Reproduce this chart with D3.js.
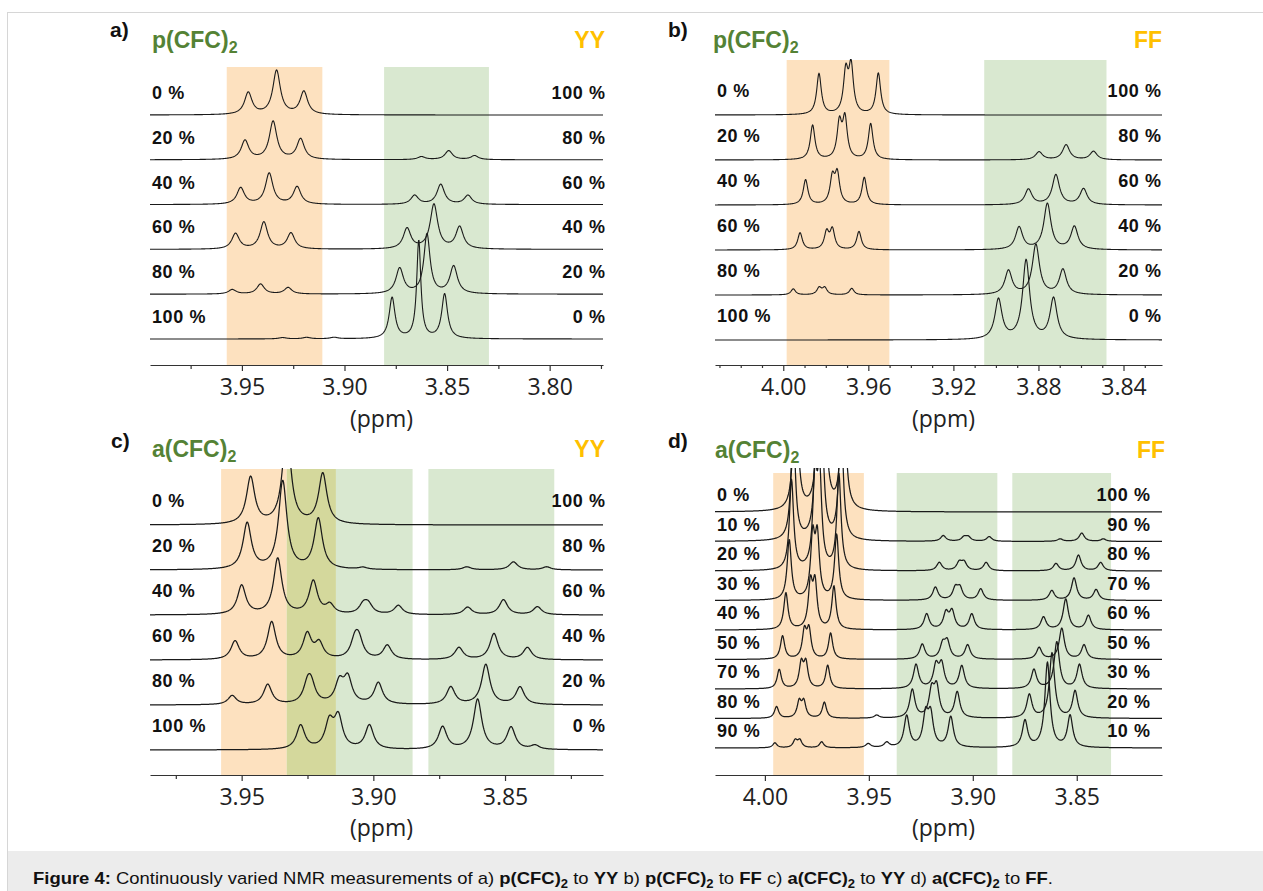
<!DOCTYPE html>
<html>
<head>
<meta charset="utf-8">
<script src="https://cdn.jsdelivr.net/npm/d3@7/dist/d3.min.js"></script>
<style>
body { margin: 0; background: #fff; }
svg { display: block; }
</style>
</head>
<body>
<svg id="fig" width="1263" height="891"></svg>
<script>
// ---- panel a : p(CFC)2 -> YY ----
var leftA = ["0 %", "20 %", "40 %", "60 %", "80 %", "100 %"];
var rightA = ["100 %", "80 %", "60 %", "40 %", "20 %", "0 %"];
var majorA = [3.95, 3.90, 3.85, 3.80];
var minorA = [3.975, 3.925, 3.875, 3.825, 3.775];
var bandsA = [[3.9574, 3.9108, "orange"], [3.8807, 3.8296, "green"]];
// peaks: [ppm, height, halfwidth?]
var peaksA = [
	[[3.9469, 22], [3.9331, 44], [3.9198, 23]],
	[[3.9485, 19], [3.9348, 38], [3.9214, 20.5], [3.8625, 3], [3.8492, 9], [3.8366, 4]],
	[[3.9506, 16.5], [3.9367, 31], [3.9231, 17.5], [3.8658, 9], [3.8531, 20], [3.8398, 9]],
	[[3.9531, 15.5], [3.9393, 27], [3.9261, 16], [3.8695, 20.5], [3.8564, 44.5], [3.8439, 22]],
	[[3.9547, 4.5], [3.9409, 10], [3.9275, 6.5], [3.8731, 25.5], [3.8598, 59.5, 0.0018], [3.8468, 27.5]],
	[[3.9302, 1.3], [3.9185, 1.5], [3.9051, 1.5], [3.8768, 41, 0.0017], [3.8638, 98, 0.0012], [3.8512, 44.5, 0.0017]]
];

// ---- panel b : p(CFC)2 -> FF ----
var leftB = ["0 %", "20 %", "40 %", "60 %", "80 %", "100 %"];
var rightB = ["100 %", "80 %", "60 %", "40 %", "20 %", "0 %"];
var majorB = [4.00, 3.96, 3.92, 3.88, 3.84];
var minorB = [4.03, 4.02, 4.01, 3.99, 3.98, 3.97, 3.95, 3.94, 3.93, 3.91, 3.90, 3.89, 3.87, 3.86, 3.85, 3.83];
var bandsB = [[3.9984, 3.9501, "orange"], [3.9055, 3.8480, "green"]];
var peaksB = [
	[[3.9832, 41], [3.9706, 41], [3.9681, 46.4], [3.9553, 41.5]],
	[[3.9862, 34.5], [3.9736, 35.4], [3.9710, 39.6], [3.9589, 36], [3.8797, 8, 0.002], [3.8670, 15, 0.002], [3.8541, 8.5, 0.002]],
	[[3.9895, 25], [3.9769, 26.1], [3.9746, 29.5], [3.9619, 27.3], [3.8847, 15.5, 0.002], [3.8718, 30, 0.002], [3.8588, 16, 0.002]],
	[[3.9921, 17], [3.9796, 17.2], [3.9769, 19.7], [3.9644, 18.3], [3.8891, 22.5, 0.002], [3.8758, 46, 0.002], [3.8631, 23, 0.002]],
	[[3.9953, 6], [3.9831, 6.9], [3.9805, 6.9], [3.9678, 6.5], [3.8941, 24, 0.002], [3.8812, 50, 0.002], [3.8685, 25, 0.002]],
	[[3.8988, 40, 0.002], [3.8858, 79, 0.002], [3.8729, 41, 0.002]]
];

// ---- panel c : a(CFC)2 -> YY ----
var leftC = ["0 %", "20 %", "40 %", "60 %", "80 %", "100 %"];
var rightC = ["100 %", "80 %", "60 %", "40 %", "20 %", "0 %"];
var majorC = [3.95, 3.90, 3.85];
var minorC = [3.975, 3.925, 3.875, 3.825];
var bandsC = [[3.9578, 3.9329, "orange"], [3.9329, 3.9142, "olive"], [3.9142, 3.8851, "green"], [3.8791, 3.8313, "green"]];
var peaksC = [
	[[3.9466, 47], [3.9329, 95], [3.9192, 50.5]],
	[[3.9479, 46], [3.9344, 88], [3.9209, 50.5], [3.9040, 2], [3.8645, 3], [3.8468, 8], [3.8342, 3]],
	[[3.9500, 29], [3.9363, 56], [3.9228, 33], [3.9165, 9], [3.9038, 9], [3.9019, 9], [3.8905, 9], [3.8642, 7.5], [3.8506, 15], [3.8377, 8]],
	[[3.9525, 18.5], [3.9386, 37.5], [3.9251, 25], [3.9206, 15.5], [3.9070, 17], [3.9055, 17], [3.8947, 14], [3.8675, 12], [3.8542, 26], [3.8415, 12]],
	[[3.9536, 9], [3.9401, 20], [3.9250, 17], [3.9236, 17], [3.9129, 21], [3.9097, 25], [3.8981, 21.5], [3.8706, 17.5], [3.8573, 40], [3.8443, 17.5]],
	[[3.9276, 24], [3.9167, 26], [3.9133, 31], [3.9015, 24], [3.8737, 22.5], [3.8604, 50], [3.8477, 22], [3.8386, 4]]
];

// ---- panel d : a(CFC)2 -> FF ----
var leftD = ["0 %", "10 %", "20 %", "30 %", "40 %", "50 %", "70 %", "80 %", "90 %"];
var rightD = ["100 %", "90 %", "80 %", "70 %", "60 %", "50 %", "30 %", "20 %", "10 %"];
var majorD = [4.00, 3.95, 3.90, 3.85];
var minorD = [];
var bandsD = [[3.9960, 3.9524, "orange"], [3.9366, 3.8882, "green"], [3.8810, 3.8335, "green"]];
var peaksD = [
	[[3.9852, 150], [3.9738, 138], [3.9716, 138], [3.9623, 155]],
	[[3.9864, 120], [3.9750, 114], [3.9728, 114], [3.9634, 125], [3.9142, 5.7, 0.0015], [3.9042, 4, 0.0015], [3.9022, 4, 0.0015], [3.8921, 4.7, 0.0015], [3.8580, 2.5, 0.0015], [3.8476, 8.3, 0.0015], [3.8372, 2.5, 0.0015]],
	[[3.9872, 90], [3.9759, 90], [3.9737, 90], [3.9644, 95], [3.9161, 8.3, 0.0015], [3.9065, 8, 0.0015], [3.9042, 8, 0.0015], [3.8936, 8.3, 0.0015], [3.8600, 7.3, 0.0015], [3.8492, 15.7, 0.0015], [3.8385, 8.3, 0.0015]],
	[[3.9883, 60], [3.9770, 60], [3.9748, 60], [3.9655, 65], [3.9180, 13, 0.0015], [3.9084, 11.5, 0.0015], [3.9062, 11.5, 0.0015], [3.8962, 11.3, 0.0015], [3.8620, 9.7, 0.0015], [3.8513, 22.3, 0.0015], [3.8407, 10.7, 0.0015]],
	[[3.9899, 36.7], [3.9781, 44], [3.9759, 44], [3.9668, 43], [3.9222, 15.7, 0.0015], [3.9129, 16, 0.0015], [3.9100, 17.5, 0.0015], [3.9005, 15.7, 0.0015], [3.8660, 12.7, 0.0015], [3.8553, 30.7, 0.0015], [3.8444, 14.3, 0.0015]],
	[[3.9915, 23.3], [3.9810, 27], [3.9788, 28], [3.9684, 26], [3.9243, 15, 0.0015], [3.9145, 14, 0.0015], [3.9123, 16.5, 0.0015], [3.9025, 14.3, 0.0015], [3.8681, 11.7, 0.0015], [3.8572, 31, 0.0015], [3.8465, 14.3, 0.0015]],
	[[3.9931, 19.3], [3.9825, 24.5], [3.9803, 24.5], [3.9698, 23.3], [3.9273, 24, 0.0015], [3.9177, 22, 0.0015], [3.9150, 23, 0.0015], [3.9053, 22.7, 0.0015], [3.8706, 19, 0.0015], [3.8596, 46.7, 0.0015], [3.8487, 24, 0.0015]],
	[[3.9944, 11.7], [3.9835, 16], [3.9813, 16], [3.9714, 16], [3.9462, 3, 0.0015], [3.9291, 28.3, 0.0015], [3.9198, 26, 0.0015], [3.9174, 29, 0.0015], [3.9075, 26, 0.0015], [3.8728, 23.3, 0.0015], [3.8619, 65, 0.0015], [3.8508, 27, 0.0015]],
	[[3.9952, 5], [3.9854, 7.3], [3.9832, 7.3], [3.9727, 6], [3.9503, 4, 0.0015], [3.9414, 5, 0.0015], [3.9318, 31.5, 0.0015], [3.9227, 31, 0.0015], [3.9203, 31, 0.0015], [3.9106, 30.5, 0.0015], [3.8749, 26.7, 0.0015], [3.8641, 85, 0.0015], [3.8532, 31.7, 0.0015]]
];

var captionParts = [
	["Figure 4:", true], [" Continuously varied NMR measurements of a) ", false],
	["p(CFC)", true], ["2", true, 1], [" to ", false], ["YY", true], [" b) ", false],
	["p(CFC)", true], ["2", true, 1], [" to ", false], ["FF", true], [" c) ", false],
	["a(CFC)", true], ["2", true, 1], [" to ", false], ["YY", true], [" d) ", false],
	["a(CFC)", true], ["2", true, 1], [" to ", false], ["FF", true], [".", false]
];

var bandFill = {orange: "#fde1bf", green: "#d9e8d0", olive: "#d4d89c"};
var green = "#548235", gold = "#ffc000";

var svg = d3.select("#fig");

// frame + caption box
svg.append("rect").attr("x", 7.5).attr("y", 12.5).attr("width", 1270).attr("height", 900)
	.attr("fill", "none").attr("stroke", "#d6d6d6");
svg.append("rect").attr("x", 8).attr("y", 851).attr("width", 1255).attr("height", 40).attr("fill", "#ececec");

var cap = svg.append("text").attr("x", 33).attr("y", 884)
	.attr("font-family", "Liberation Sans, Arial, sans-serif").attr("font-size", 17).attr("fill", "#111")
	.attr("textLength", 1020).attr("lengthAdjust", "spacingAndGlyphs");
captionParts.forEach(function(c, i) {
	var prev = i > 0 ? captionParts[i - 1][2] : 0;
	cap.append("tspan")
		.attr("font-weight", c[1] ? "bold" : "normal")
		.attr("font-size", c[2] ? 12 : null)
		.attr("dy", c[2] ? 4 : (prev ? -4 : 0))
		.text(c[0]);
});

var panels = [
	{id: "a", letter: "a)", title: "p(CFC)", guest: "YY", left: leftA, right: rightA, peaks: peaksA, bands: bandsA,
		major: majorA, minor: minorA, domain: [3.9948, 3.774], x0: 150, x1: 603, yFirst: 115, yLast: 339,
		axisY: 365, top: 67, clipTop: 60, w: 0.0022, lx: 110, ly: 37, tx: 152, ty: 48, gx: 605, rx: 605,
		labelDy: -16, tickY: 395, unitY: 427, majorLen: 6, minorLen: 4, sw: 1.1},
	{id: "b", letter: "b)", title: "p(CFC)", guest: "FF", left: leftB, right: rightB, peaks: peaksB, bands: bandsB,
		major: majorB, minor: minorB, domain: [4.0321, 3.8219], x0: 715, x1: 1162, yFirst: 115, yLast: 340,
		axisY: 365, top: 60, clipTop: 59, w: 0.0013, lx: 668, ly: 37, tx: 713, ty: 48, gx: 1162, rx: 1161,
		labelDy: -18, tickY: 395, unitY: 427, majorLen: 6, minorLen: 3, sw: 1.1},
	{id: "c", letter: "c)", title: "a(CFC)", guest: "YY", left: leftC, right: rightC, peaks: peaksC, bands: bandsC,
		major: majorC, minor: minorC, domain: [3.9848, 3.8128], x0: 150, x1: 603, yFirst: 525, yLast: 750,
		axisY: 775, top: 469, clipTop: 468, w: 0.0019, lx: 111, ly: 448, tx: 152, ty: 457, gx: 605, rx: 605,
		labelDy: -18, tickY: 805, unitY: 836, majorLen: 6, minorLen: 4, sw: 1.25},
	{id: "d", letter: "d)", title: "a(CFC)", guest: "FF", left: leftD, right: rightD, peaks: peaksD, bands: bandsD,
		major: majorD, minor: minorD, domain: [4.024, 3.809], x0: 715, x1: 1162, yFirst: 512, yLast: 748,
		axisY: 775, top: 473, clipTop: 468, w: 0.0012, lx: 668, ly: 448, tx: 715, ty: 458, gx: 1165, rx: 1150,
		labelDy: -11, tickY: 805, unitY: 836, majorLen: 6, minorLen: 3, sw: 1.25}
];

panels.forEach(drawPanel);

function drawPanel(p) {
	var g = svg.append("g").attr("class", "panel-" + p.id);

	var x = d3.scaleLinear().domain(p.domain).range([p.x0, p.x1]);
	var base = d3.scalePoint().domain(p.left).range([p.yFirst, p.yLast]);
	var amp = d3.scaleLinear().domain([0, 100]).range([0, 100]);

	// shaded regions
	g.selectAll("rect.band").data(p.bands).join("rect")
		.attr("class", "band")
		.attr("x", d => x(d[0]))
		.attr("width", d => x(d[1]) - x(d[0]))
		.attr("y", p.top)
		.attr("height", p.axisY - p.top)
		.attr("fill", d => bandFill[d[2]]);

	// axis: minor ticks then major ticks + labels
	var minorAxis = g.append("g").attr("transform", `translate(0,${p.axisY})`)
		.call(d3.axisBottom(x).tickValues(p.minor).tickSize(p.minorLen).tickFormat(""));
	minorAxis.select(".domain").remove();

	var pad = p.tickY - p.axisY - 16.3 - p.majorLen;
	var majorAxis = g.append("g").attr("transform", `translate(0,${p.axisY})`)
		.call(d3.axisBottom(x).tickValues(p.major).tickSize(p.majorLen).tickSizeOuter(0)
			.tickPadding(pad).tickFormat(d3.format(".2f")));
	g.selectAll(".tick line, .domain").attr("stroke", "#333").attr("stroke-width", 1.2);
	majorAxis.selectAll("text").attr("font-family", "Open Sans, sans-serif").attr("font-size", 23).attr("fill", "#222");

	g.append("text").attr("x", (p.x0 + p.x1) / 2 + 5).attr("y", p.unitY)
		.attr("text-anchor", "middle").attr("font-family", "Open Sans, sans-serif")
		.attr("font-size", 23).attr("fill", "#222").text("(ppm)");

	// spectra
	g.append("clipPath").attr("id", "clip-" + p.id).append("rect")
		.attr("x", p.x0 - 2).attr("y", p.clipTop).attr("width", p.x1 - p.x0 + 4).attr("height", p.axisY - p.clipTop);

	var line = d3.line().x(d => x(d[0])).y(d => d[1]);
	var px = d3.range(p.x0, p.x1 + 0.01, 0.5);

	g.append("g").attr("clip-path", `url(#clip-${p.id})`)
		.selectAll("path").data(p.peaks).join("path")
		.attr("fill", "none").attr("stroke", "#1a1a1a").attr("stroke-width", p.sw)
		.attr("stroke-linejoin", "round")
		.attr("d", (pk, i) => {
			var y0 = base(p.left[i]);
			var pts = px.map(function(v) {
				var ppm = x.invert(v), s = 0;
				pk.forEach(function(q) {
					var t = (ppm - q[0]) / (q[2] || p.w);
					s += q[1] / (1 + t * t);
				});
				return [ppm, y0 - amp(s)];
			});
			return line(pts);
		});

	// percentage labels
	var lab = "Liberation Sans, Arial, sans-serif";
	g.selectAll("text.lp").data(p.left).join("text").attr("class", "lp")
		.attr("x", p.x0 + 2).attr("y", d => base(d) + p.labelDy)
		.attr("font-family", lab).attr("font-weight", "bold").attr("font-size", 18)
		.attr("letter-spacing", 0.6).attr("fill", "#111").text(d => d);
	g.selectAll("text.rp").data(p.right).join("text").attr("class", "rp")
		.attr("x", p.rx + 0.6).attr("y", (d, i) => base(p.left[i]) + p.labelDy)
		.attr("text-anchor", "end")
		.attr("font-family", lab).attr("font-weight", "bold").attr("font-size", 18)
		.attr("letter-spacing", 0.6).attr("fill", "#111").text(d => d);

	// headings
	g.append("text").attr("x", p.lx).attr("y", p.ly)
		.attr("font-family", lab).attr("font-weight", "bold").attr("font-size", 21).attr("fill", "#111")
		.text(p.letter);
	var t = g.append("text").attr("x", p.tx).attr("y", p.ty)
		.attr("font-family", lab).attr("font-weight", "bold").attr("font-size", 23).attr("fill", green);
	t.append("tspan").text(p.title);
	t.append("tspan").attr("font-size", 16).attr("dy", 5).text("2");
	g.append("text").attr("x", p.gx).attr("y", p.ty).attr("text-anchor", "end")
		.attr("font-family", lab).attr("font-weight", "bold").attr("font-size", 23).attr("fill", gold)
		.text(p.guest);
}
</script>
</body>
</html>
